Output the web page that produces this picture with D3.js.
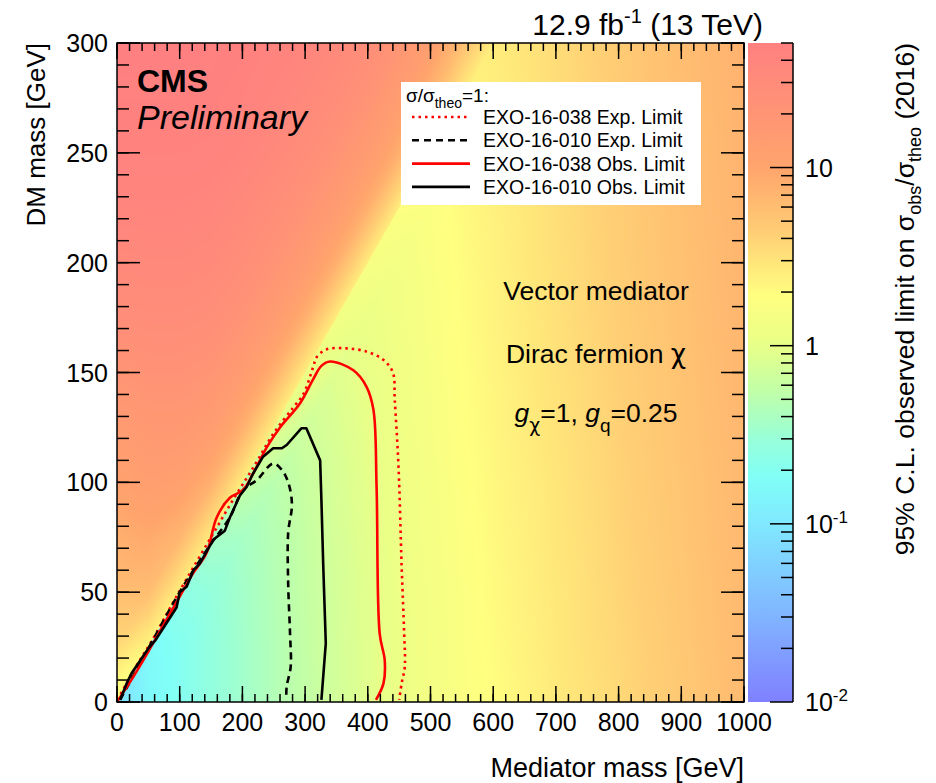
<!DOCTYPE html>
<html>
<head>
<meta charset="utf-8">
<script src="https://cdn.jsdelivr.net/npm/d3@7"></script>
<style>
  body { margin: 0; background: #fff; }
  svg text { font-family: "Liberation Sans", Arial, Helvetica, sans-serif; fill: #000; }
  .greek { font-family: "DejaVu Sans", sans-serif; }
</style>
</head>
<body>
<svg id="chart" width="936" height="783"></svg>
<script>
// grid of the scan (GeV)
var medPoints = [0, 50, 100, 150, 200, 250, 300, 350, 400, 450, 500, 550, 600, 650, 700, 750, 800, 850, 900, 950, 1000];
var dmPoints = [0, 25, 50, 75, 100, 125, 150, 175, 200, 225, 250, 275, 300];

// sigma_obs/sigma_theo, one row per DM mass (null = on the m_med = 2 m_DM line)
var limitGrid = [
  [null, 0.15, 0.2, 0.27, 0.35, 0.45, 0.57, 0.72, 0.9, 1.12, 1.38, 1.65, 1.95, 2.3, 2.7, 3.1, 3.6, 4.2, 4.8, 5.5, 6.3],
  [3.5, null, 0.2, 0.27, 0.35, 0.45, 0.58, 0.73, 0.9, 1.13, 1.4, 1.68, 2.0, 2.35, 2.75, 3.2, 3.7, 4.3, 4.9, 5.6, 6.4],
  [6, 6, null, 0.28, 0.36, 0.46, 0.59, 0.74, 0.91, 1.15, 1.42, 1.7, 2.05, 2.4, 2.8, 3.25, 3.8, 4.4, 5.0, 5.7, 6.5],
  [8, 9, 7, null, 0.38, 0.47, 0.6, 0.76, 0.93, 1.17, 1.45, 1.75, 2.1, 2.45, 2.85, 3.3, 3.9, 4.5, 5.1, 5.8, 6.6],
  [11, 13, 12, 8, null, 0.5, 0.62, 0.78, 0.96, 1.2, 1.48, 1.8, 2.15, 2.5, 2.9, 3.4, 4.0, 4.6, 5.2, 5.9, 6.7],
  [15, 17, 17, 14, 8, null, 0.68, 0.82, 0.99, 1.23, 1.52, 1.85, 2.2, 2.6, 3.0, 3.5, 4.1, 4.7, 5.3, 6.0, 6.8],
  [20, 22, 22, 20, 15, 8, null, 0.88, 1.05, 1.27, 1.56, 1.9, 2.25, 2.65, 3.1, 3.6, 4.2, 4.8, 5.4, 6.1, 6.9],
  [27, 28, 28, 26, 21, 15, 8, null, 1.12, 1.32, 1.6, 1.95, 2.3, 2.7, 3.15, 3.7, 4.3, 4.9, 5.5, 6.2, 7.0],
  [33, 34, 34, 32, 27, 21, 15, 8, null, 1.38, 1.65, 2.0, 2.35, 2.75, 3.2, 3.75, 4.35, 5.0, 5.6, 6.3, 7.1],
  [40, 40, 40, 38, 33, 27, 21, 15, 8, null, 1.7, 2.05, 2.4, 2.8, 3.25, 3.8, 4.4, 5.1, 5.7, 6.4, 7.2],
  [45, 45, 45, 44, 40, 34, 28, 21, 15, 8, null, 2.1, 2.45, 2.85, 3.3, 3.85, 4.5, 5.2, 5.8, 6.5, 7.3],
  [48, 48, 48, 47, 45, 40, 34, 28, 21, 14, 7, null, 2.5, 2.9, 3.35, 3.9, 4.55, 5.3, 5.9, 6.6, 7.4],
  [50, 50, 50, 49, 47, 44, 40, 34, 27, 20, 13, 6, null, 2.95, 3.4, 3.95, 4.6, 5.35, 6.0, 6.7, 7.5]
];
// values on the kinematic line, seen from the off-shell side and from the on-shell side
var edgeAbove = [1.5, 2.2, 2.5, 2.6, 2.6, 2.6, 2.6, 2.6, 2.6, 2.6, 2.6, 2.6, 2.6];
var edgeBelow = [0.08, 0.16, 0.24, 0.38, 0.58, 0.95, 1.15, 1.3, 1.5, 1.75, 2.0, 2.3, 2.6];

// colour palette
var paletteValues = [0.01, 0.03, 0.1, 0.18, 0.3, 0.55, 1, 1.9, 4.5, 10, 50];
var paletteColors = ["#8080ff", "#80b4ff", "#80e8ff", "#80fff8", "#98ffd8", "#c0ffa8", "#e8ff88", "#ffff80", "#ffcc74", "#ffa46c", "#ff8080"];
var zRange = [0.01, 50];

// sigma/sigma_theo = 1 contours [m_med, m_DM]
var exp038 = [[1, 1], [30, 16], [58, 29], [85, 43], [111, 56], [150, 75], [185, 92], [220, 108], [249, 122], [281, 134], [297, 140], [313, 152.6], [318.5, 157], [334, 160.5], [366, 161], [398, 159.5], [425, 155.7], [440, 150], [443, 137.5], [449, 107], [454, 61.6], [458, 31], [459, 16], [454, 8.5], [450, 1]];
var obs038 = [[1, 0.5], [25, 11], [50, 23], [75, 35.5], [100, 48], [120, 58], [143, 68], [159, 84], [180, 93], [201, 96.5], [217, 104], [239, 116], [260, 125], [292, 136], [313, 147], [326, 153], [340, 155], [377, 151], [398, 143.5], [409, 133], [414, 98], [419, 31], [427, 19], [425, 8.5], [413, 1]];
var exp010 = [[5, 1], [50, 24.4], [100, 50], [150, 72], [180, 84], [201, 96.5], [223, 101], [249, 108.6], [262, 106], [273, 100], [279, 90], [273, 77], [273, 54], [276, 31], [277, 16], [270.6, 7], [270, 1]];
var obs010 = [[5, 1], [15.5, 8.5], [23, 13], [50, 24.4], [61, 28], [95, 43], [100, 50], [111, 52.5], [122, 60], [132, 63], [154, 74], [172, 78], [180, 84], [196, 94], [207, 98], [217, 104], [233, 111.7], [249, 115.5], [263, 115.5], [270.6, 117], [294, 124.6], [302, 124.6], [324, 110], [326, 92], [329, 61.6], [333, 26.7], [326, 1]];

var legendLabels = ["EXO-16-038 Exp. Limit", "EXO-16-010 Exp. Limit", "EXO-16-038 Obs. Limit", "EXO-16-010 Obs. Limit"];

var svg = d3.select("#chart");
var x = d3.scaleLinear().domain([0, 1000]).range([117, 744]);
var y = d3.scaleLinear().domain([0, 300]).range([702, 43]);
var zScale = d3.scaleLog().domain(zRange).range([702, 43]);
var color = d3.scaleLog().domain(paletteValues).range(paletteColors).interpolate(d3.interpolateRgb).clamp(true);

// ---- heat map, triangulated along the kinematic line
function cornerValue(c, r, above) {
    if (c === r) return above ? edgeAbove[c] : edgeBelow[c];
    return limitGrid[r][c];
}
var lut = [];
var lmin = Math.log10(zRange[0]), lmax = Math.log10(zRange[1]);
for (var k = 0; k < 512; k++) {
    lut.push(d3.rgb(color(Math.pow(10, lmin + (lmax - lmin) * k / 511))));
}
var x0 = x.range()[0], y0 = y.range()[1];
var W = Math.round(x.range()[1] - x0), H = Math.round(y.range()[0] - y0);
var canvas = document.createElement("canvas");
canvas.width = W; canvas.height = H;
var ctx = canvas.getContext("2d");
var img = ctx.createImageData(W, H);
var stepX = medPoints[1] - medPoints[0], stepY = dmPoints[1] - dmPoints[0];
for (var py = 0; py < H; py++) {
    var dm = y.invert(y0 + py + 0.5);
    var r = Math.max(0, Math.min(Math.floor(dm / stepY), dmPoints.length - 2));
    var fy = (dm - dmPoints[r]) / stepY;
    for (var px = 0; px < W; px++) {
        var med = x.invert(x0 + px + 0.5);
        var c = Math.max(0, Math.min(Math.floor(med / stepX), medPoints.length - 2));
        var fx = (med - medPoints[c]) / stepX;
        var above = dm / stepY > med / stepX;
        var bl = Math.log10(cornerValue(c, r, above));
        var tr = Math.log10(cornerValue(c + 1, r + 1, above));
        var v;
        if (fy > fx) {
            var tl = Math.log10(cornerValue(c, r + 1, above));
            v = bl * (1 - fy) + tl * (fy - fx) + tr * fx;
        } else {
            var br = Math.log10(cornerValue(c + 1, r, above));
            v = bl * (1 - fx) + br * (fx - fy) + tr * fy;
        }
        var idx = Math.round((v - lmin) / (lmax - lmin) * 511);
        idx = Math.max(0, Math.min(511, idx));
        var col = lut[idx], p = (py * W + px) * 4;
        img.data[p] = col.r; img.data[p + 1] = col.g; img.data[p + 2] = col.b; img.data[p + 3] = 255;
    }
}
ctx.putImageData(img, 0, 0);
svg.append("image")
    .attr("x", x0).attr("y", y0)
    .attr("width", W).attr("height", H)
    .attr("preserveAspectRatio", "none")
    .attr("href", canvas.toDataURL());

// ---- colour bar
var grad = svg.append("defs").append("linearGradient")
    .attr("id", "zgrad").attr("x1", 0).attr("y1", 1).attr("x2", 0).attr("y2", 0);
d3.range(0, 61).forEach(function (i) {
    var t = i / 60;
    grad.append("stop").attr("offset", t).attr("stop-color", color(Math.pow(10, lmin + (lmax - lmin) * t)));
});
svg.append("rect")
    .attr("x", 748).attr("y", 43).attr("width", 45).attr("height", 659)
    .attr("fill", "url(#zgrad)");
var zTicks = zScale.ticks();
function isDecade(d) { return Math.abs(Math.log10(d) - Math.round(Math.log10(d))) < 1e-6; }
svg.append("g").selectAll("line").data(zTicks).enter().append("line")
    .attr("x1", 793).attr("x2", function (d) { return isDecade(d) ? 770 : 781; })
    .attr("y1", function (d) { return zScale(d); }).attr("y2", function (d) { return zScale(d); })
    .attr("stroke", "#000").attr("stroke-width", 1.5);
svg.append("line").attr("x1", 793).attr("x2", 793).attr("y1", 43).attr("y2", 702).attr("stroke", "#000").attr("stroke-width", 1.5);
var zLabels = svg.append("g");
zTicks.filter(isDecade).forEach(function (d) {
    var e = Math.round(Math.log10(d));
    var t = zLabels.append("text").attr("x", 805).attr("y", zScale(d) + 9).attr("font-size", 25);
    if (e === 0) t.text("1");
    else if (e === 1) t.text("10");
    else {
        t.text("10");
        t.append("tspan").attr("dy", -10).attr("font-size", 17).text(e);
    }
});

// ---- contours
var clip = svg.append("clipPath").attr("id", "plotclip");
clip.append("rect").attr("x", 117).attr("y", 43).attr("width", 627).attr("height", 659);
var line = d3.line().x(function (d) { return x(d[0]); }).y(function (d) { return y(d[1]); });
var smooth = d3.line().curve(d3.curveCatmullRom.alpha(0.5)).x(function (d) { return x(d[0]); }).y(function (d) { return y(d[1]); });
var curves = [
    { data: exp038, stroke: "#ff0000", dash: "2.5,4", gen: smooth },
    { data: exp010, stroke: "#000000", dash: "7,5", gen: smooth },
    { data: obs038, stroke: "#ff0000", dash: null, gen: smooth },
    { data: obs010, stroke: "#000000", dash: null, gen: line }
];
svg.append("g").attr("clip-path", "url(#plotclip)").selectAll("path").data(curves).enter().append("path")
    .attr("d", function (d) { return d.gen(d.data); })
    .attr("fill", "none")
    .attr("stroke", function (d) { return d.stroke; })
    .attr("stroke-width", 2.6)
    .attr("stroke-linejoin", "round")
    .attr("stroke-dasharray", function (d) { return d.dash; });

// ---- frame and axes
var frame = svg.append("g");
frame.append("rect").attr("x", 117).attr("y", 43).attr("width", 627).attr("height", 659)
    .attr("fill", "none").attr("stroke", "#000").attr("stroke-width", 1.5);
function tickLines(vals, pos, len, horizontal, edge) {
    frame.append("g").selectAll("line").data(vals).enter().append("line")
        .attr("x1", function (d) { return horizontal ? pos(d) : edge; })
        .attr("x2", function (d) { return horizontal ? pos(d) : edge + len; })
        .attr("y1", function (d) { return horizontal ? edge : pos(d); })
        .attr("y2", function (d) { return horizontal ? edge + len : pos(d); })
        .attr("stroke", "#000").attr("stroke-width", 1.5);
}
var xMajor = x.ticks(10), xMinor = x.ticks(50);
var yMajor = y.ticks(6), yMinor = y.ticks(30);
tickLines(xMinor, x, -8, true, 702);
tickLines(xMajor, x, -16, true, 702);
tickLines(xMinor, x, 8, true, 43);
tickLines(xMajor, x, 16, true, 43);
tickLines(yMinor, y, 12, false, 117);
tickLines(yMajor, y, 23, false, 117);
tickLines(yMinor, y, -12, false, 744);
tickLines(yMajor, y, -23, false, 744);

svg.append("g").selectAll("text").data(xMajor).enter().append("text")
    .attr("x", function (d) { return x(d); }).attr("y", 731)
    .attr("text-anchor", "middle").attr("font-size", 25)
    .text(function (d) { return d; });
svg.append("g").selectAll("text").data(yMajor).enter().append("text")
    .attr("x", 108).attr("y", function (d) { return y(d) + 9; })
    .attr("text-anchor", "end").attr("font-size", 25)
    .text(function (d) { return d; });

// ---- titles
svg.append("text").attr("x", 744).attr("y", 777).attr("text-anchor", "end").attr("font-size", 27)
    .text("Mediator mass [GeV]");
svg.append("text").attr("transform", "translate(45,43) rotate(-90)").attr("text-anchor", "end").attr("font-size", 26)
    .text("DM mass [GeV]");
var zt = svg.append("text").attr("transform", "translate(914,43) rotate(-90)").attr("text-anchor", "end").attr("font-size", 26.5);
zt.append("tspan").text("95% C.L. observed limit on σ");
zt.append("tspan").attr("dy", 7).attr("font-size", 18).text("obs");
zt.append("tspan").attr("dy", -7).text("/σ");
zt.append("tspan").attr("dy", 7).attr("font-size", 18).text("theo");
zt.append("tspan").attr("dy", -7).text(" (2016)");

var lumi = svg.append("text").attr("x", 763).attr("y", 35).attr("text-anchor", "end").attr("font-size", 30);
lumi.append("tspan").text("12.9 fb");
lumi.append("tspan").attr("dy", -12).attr("font-size", 20).text("-1");
lumi.append("tspan").attr("dy", 12).text(" (13 TeV)");

svg.append("text").attr("x", 137).attr("y", 92).attr("font-size", 32).attr("font-weight", "bold").text("CMS");
svg.append("text").attr("x", 137).attr("y", 129).attr("font-size", 34).attr("font-style", "italic").text("Preliminary");

// ---- model annotation
svg.append("text").attr("x", 596).attr("y", 300).attr("text-anchor", "middle").attr("font-size", 26.5).text("Vector mediator");
var dt = svg.append("text").attr("x", 596).attr("y", 363).attr("text-anchor", "middle").attr("font-size", 26.5);
dt.append("tspan").text("Dirac fermion ");
dt.append("tspan").attr("class", "greek").text("χ");
var cp = svg.append("text").attr("x", 596).attr("y", 422).attr("text-anchor", "middle").attr("font-size", 26.5);
cp.append("tspan").attr("font-style", "italic").text("g");
cp.append("tspan").attr("class", "greek").attr("dy", 10).attr("font-size", 19).text("χ");
cp.append("tspan").attr("dy", -10).text("=1, ");
cp.append("tspan").attr("font-style", "italic").text("g");
cp.append("tspan").attr("dy", 10).attr("font-size", 19).text("q");
cp.append("tspan").attr("dy", -10).text("=0.25");

// ---- legend
var leg = svg.append("g");
leg.append("rect").attr("x", 401).attr("y", 82).attr("width", 300).attr("height", 123).attr("fill", "#fff");
var lh = leg.append("text").attr("x", 406).attr("y", 102).attr("font-size", 19);
lh.append("tspan").text("σ/σ");
lh.append("tspan").attr("dy", 6).attr("font-size", 14).text("theo");
lh.append("tspan").attr("dy", -6).text("=1:");
legendLabels.forEach(function (lab, i) {
    var yy = 124 + i * 23.3;
    leg.append("line").attr("x1", 412).attr("x2", 470).attr("y1", yy - 7).attr("y2", yy - 7)
        .attr("stroke", curves[i].stroke).attr("stroke-width", 2.6)
        .attr("stroke-dasharray", curves[i].dash);
    leg.append("text").attr("x", 483).attr("y", yy).attr("font-size", 19.5).text(lab);
});
</script>
</body>
</html>
